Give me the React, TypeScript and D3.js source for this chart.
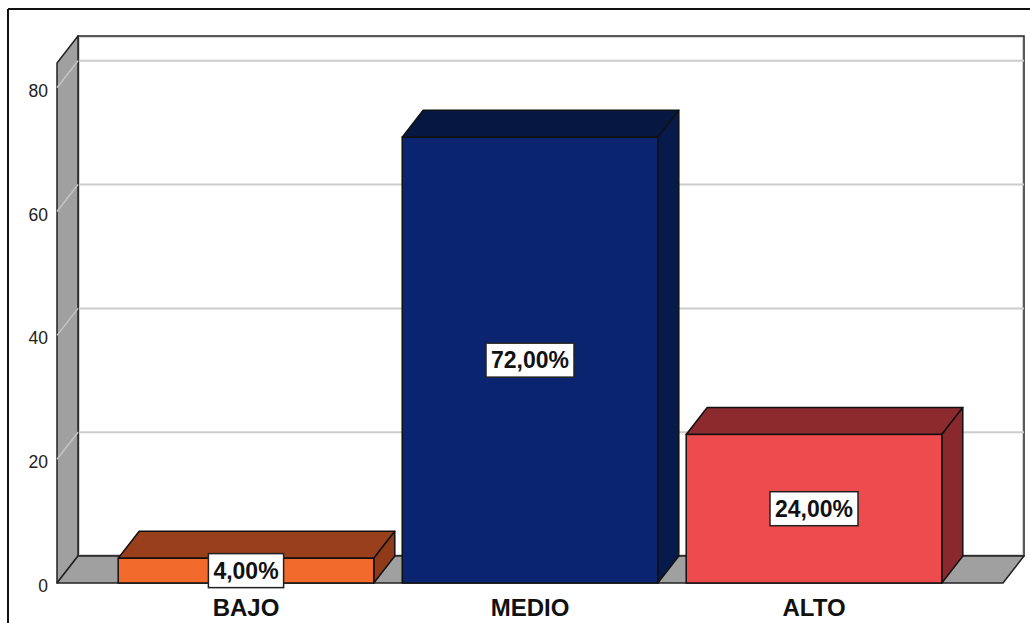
import React, { useEffect, useRef } from "react";
import * as d3 from "d3";

const categories = ["BAJO", "MEDIO", "ALTO"];
const percentages = [4, 72, 24];
const valueLabels = ["4,00%", "72,00%", "24,00%"];
const yTicks = [0, 20, 40, 60, 80];

const frontColors = ["#f26b2c", "#0a2470", "#ee4b4e"];
const topColors = ["#9a3f1b", "#061741", "#8c2a2e"];
const sideColors = ["#8f3a18", "#071a4c", "#8a292d"];

const W = 1030;
const H = 623;
// 3D depth offset of the plot box
const DX = 21;
const DY = -27;

export default function App() {
  const ref = useRef<SVGSVGElement | null>(null);

  useEffect(() => {
    const svg = d3.select(ref.current);
    svg.selectAll("*").remove();

    const frontLeft = 57;
    const frontRight = 1003;
    const y = d3.scaleLinear().domain([0, 84]).range([583, 63]);
    const x = d3
      .scaleBand<string>()
      .domain(categories)
      .range([104, 956])
      .paddingInner(0.1)
      .paddingOuter(0.05);

    const y0 = y(0);
    const yTop = y(84);
    const line = d3.line<[number, number]>();
    const poly = (pts: [number, number][]) => line(pts) + "Z";

    // outer frame
    svg.append("line").attr("x1", 8).attr("x2", W).attr("y1", 9).attr("y2", 9)
      .attr("stroke", "#111").attr("stroke-width", 2);
    svg.append("line").attr("x1", 8).attr("x2", 8).attr("y1", 9).attr("y2", H)
      .attr("stroke", "#111").attr("stroke-width", 2);

    // back wall
    svg.append("rect")
      .attr("x", frontLeft + DX).attr("y", yTop + DY)
      .attr("width", frontRight - frontLeft).attr("height", y0 - yTop)
      .attr("fill", "#fff").attr("stroke", "#222").attr("stroke-width", 1.5);
    svg.append("rect")
      .attr("x", frontLeft + DX + 1.5).attr("y", yTop + DY + 1.5)
      .attr("width", frontRight - frontLeft - 3).attr("height", y0 - yTop - 3)
      .attr("fill", "none").attr("stroke", "#d4d4d4").attr("stroke-width", 1);

    // gridlines on the back wall
    svg.append("g").selectAll("line")
      .data(yTicks.filter((t) => t > 0))
      .join("line")
      .attr("x1", frontLeft + DX).attr("x2", frontRight + DX)
      .attr("y1", (d) => y(d) + DY).attr("y2", (d) => y(d) + DY)
      .attr("stroke", "#cccccc").attr("stroke-width", 2);

    // left wall
    svg.append("path")
      .attr("d", poly([
        [frontLeft, yTop],
        [frontLeft + DX, yTop + DY],
        [frontLeft + DX, y0 + DY],
        [frontLeft, y0],
      ]))
      .attr("fill", "#a0a0a0").attr("stroke", "#222").attr("stroke-width", 1.5)
      .attr("stroke-linejoin", "round");

    svg.append("g").selectAll("line")
      .data(yTicks.filter((t) => t > 0))
      .join("line")
      .attr("x1", frontLeft).attr("x2", frontLeft + DX)
      .attr("y1", (d) => y(d)).attr("y2", (d) => y(d) + DY)
      .attr("stroke", "#c4c4c4").attr("stroke-width", 1.5);

    // floor
    svg.append("path")
      .attr("d", poly([
        [frontLeft, y0],
        [frontLeft + DX, y0 + DY],
        [frontRight + DX, y0 + DY],
        [frontRight, y0],
      ]))
      .attr("fill", "#a0a0a0").attr("stroke", "#222").attr("stroke-width", 1.5)
      .attr("stroke-linejoin", "round");

    // y tick labels
    svg.append("g").selectAll("text")
      .data(yTicks)
      .join("text")
      .attr("x", 48).attr("y", (d) => y(d) + 9)
      .attr("text-anchor", "end")
      .attr("font-family", "Arial, 'Liberation Sans', sans-serif")
      .attr("font-size", 17.5)
      .attr("fill", "#222")
      .text((d) => String(d));

    // bars
    const bars = svg.append("g");
    categories.forEach((c, i) => {
      const x0 = x(c)!;
      const x1 = x0 + x.bandwidth();
      const yt = y(percentages[i]);
      const g = bars.append("g");
      g.append("path")
        .attr("d", poly([[x0, yt], [x0 + DX, yt + DY], [x1 + DX, yt + DY], [x1, yt]]))
        .attr("fill", topColors[i]).attr("stroke", "#111").attr("stroke-width", 1.5)
        .attr("stroke-linejoin", "round");
      g.append("path")
        .attr("d", poly([[x1, yt], [x1 + DX, yt + DY], [x1 + DX, y0 + DY], [x1, y0]]))
        .attr("fill", sideColors[i]).attr("stroke", "#111").attr("stroke-width", 1.5)
        .attr("stroke-linejoin", "round");
      g.append("rect")
        .attr("x", x0).attr("y", yt).attr("width", x1 - x0).attr("height", y0 - yt)
        .attr("fill", frontColors[i]).attr("stroke", "#111").attr("stroke-width", 1.5);
    });

    // value labels
    categories.forEach((c, i) => {
      const cx = x(c)! + x.bandwidth() / 2;
      const cy = (y(percentages[i]) + y0) / 2;
      const g = svg.append("g");
      const box = g.append("rect");
      const t = g.append("text")
        .attr("x", cx).attr("y", cy + 8)
        .attr("text-anchor", "middle")
        .attr("font-family", "Arial, 'Liberation Sans', sans-serif")
        .attr("font-weight", "bold")
        .attr("font-size", 23)
        .attr("fill", "#111")
        .text(valueLabels[i]);
      const bb = (t.node() as SVGTextElement).getBBox();
      const w = bb.width + 10;
      const h = 34;
      box.attr("x", cx - w / 2).attr("y", cy - h / 2)
        .attr("width", w).attr("height", h)
        .attr("fill", "#fff").attr("stroke", "#222").attr("stroke-width", 1.5);
    });

    // category labels
    svg.append("g").selectAll("text")
      .data(categories)
      .join("text")
      .attr("x", (d) => x(d)! + x.bandwidth() / 2)
      .attr("y", 616)
      .attr("text-anchor", "middle")
      .attr("font-family", "Arial, 'Liberation Sans', sans-serif")
      .attr("font-weight", "bold")
      .attr("font-size", 24)
      .attr("fill", "#111")
      .text((d) => d);
  }, []);

  return (
    <svg
      ref={ref}
      width={W}
      height={H}
      style={{ position: "absolute", left: 0, top: 0, background: "#fff" }}
    />
  );
}
